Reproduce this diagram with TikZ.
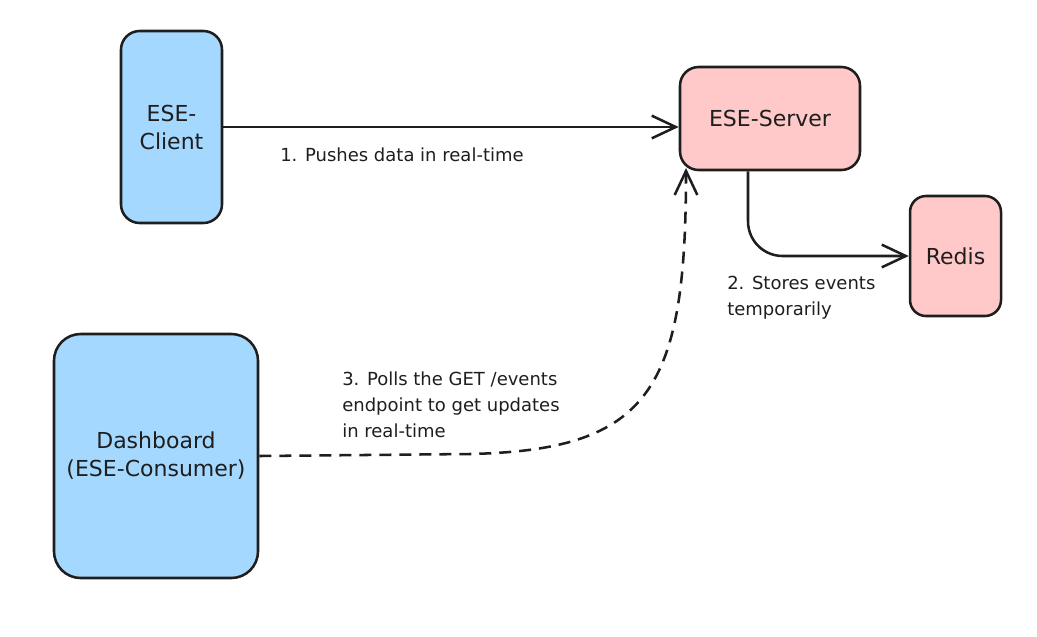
\documentclass[tikz,border=0pt]{standalone}
\usepackage{fontspec}
\setmainfont{DejaVu Sans}
\usetikzlibrary{arrows.meta, positioning, calc}
\definecolor{boxblue}{HTML}{A5D8FF}
\definecolor{boxred}{HTML}{FFC9C9}
\definecolor{ink}{HTML}{1E1E1E}
\tikzset{box/.style={draw=ink, line width=1.9pt, rounded corners=14pt, align=center,
             text=ink, font=\fontsize{16.5}{21}\selectfont},
         clientbox/.style={box, fill=boxblue},
         serverbox/.style={box, fill=boxred},
         flow/.style={draw=ink, line width=1.9pt,
             -{Straight Barb[length=18pt, width=17pt, line width=1.9pt]}}, % open chevron tips
         note/.style={align=left, inner sep=0pt, text=ink, font=\fontsize{13.5}{19.5}\selectfont}}

\begin{document}
\begin{tikzpicture}[x=0.75pt, y=-0.75pt]
    \useasboundingbox (0,0) rectangle (1037,636);

    \node[clientbox, minimum width=75.75pt, minimum height=144pt] (client) at (171.5,127) {ESE-\\Client};
    \node[serverbox, minimum width=135pt, minimum height=77.25pt] (server) at (770,118.5) {ESE-Server};
    \node[serverbox, minimum width=68.25pt, minimum height=90pt, rounded corners=12pt] (redis) at (955.5,256) {Redis};
    \node[clientbox, minimum width=153pt, minimum height=183pt, rounded corners=20pt] (dash) at (156,456) {Dashboard\\(ESE-Consumer)};

    \coordinate (drop) at ($(server.south)+(-16.5pt,0)$);
    \coordinate (bend) at (470,454);
    \coordinate (poll) at (686,168);

    \draw[flow] (client.east) -- (client.east -| server.west);
    \draw[flow, rounded corners=26pt] (drop) |- (redis.west);
    \draw[flow, dashed, dash pattern=on 9pt off 6pt] (dash.east) -- (bend)
        .. controls (650,450) and (686,390) .. (poll);

    \node[note, anchor=west] (push) at (280,155) {1. Pushes data in real-time};
    \node[note, anchor=north west] (store) at (727,276) {2. Stores events\\temporarily};
    \node[note, anchor=north west] (polls) at (342,372) {3. Polls the GET /events\\endpoint to get updates\\in real-time};
\end{tikzpicture}
\end{document}
